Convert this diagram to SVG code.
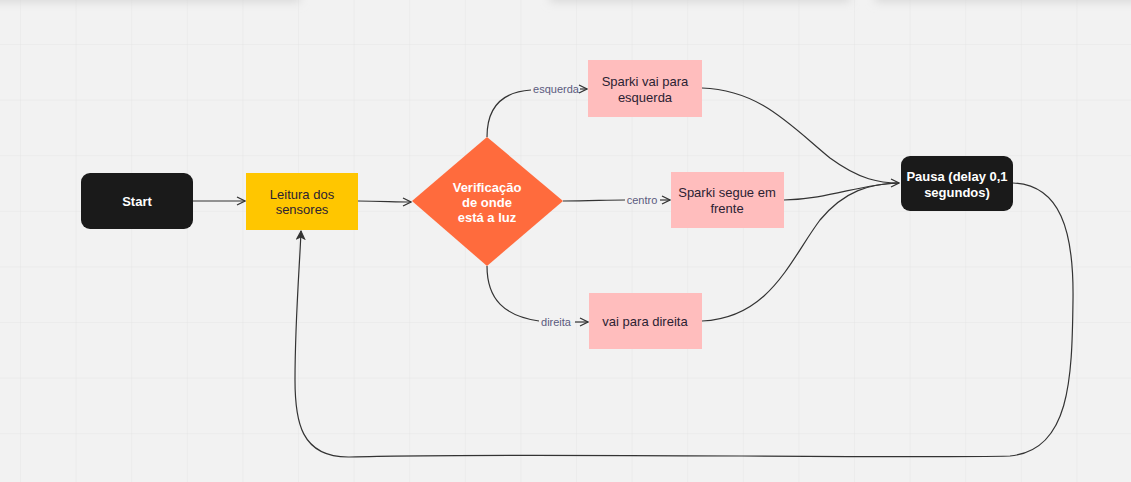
<svg xmlns="http://www.w3.org/2000/svg" width="1131" height="482" viewBox="0 0 1131 482">
<defs>
  <pattern id="grid" x="20" y="44" width="55.6" height="55.6" patternUnits="userSpaceOnUse">
    <path d="M0,0 V55.6 M0,0 H55.6" fill="none" stroke="#e5e5e5" stroke-width="1"/>
  </pattern>
  <filter id="blur" x="-10%" y="-100%" width="120%" height="300%">
    <feGaussianBlur stdDeviation="5"/>
  </filter>
  <marker id="arr" viewBox="0 0 10 10" refX="9" refY="5" markerWidth="10" markerHeight="10" markerUnits="userSpaceOnUse" orient="auto">
    <path d="M1,1 L9,5 L1,9" fill="none" stroke="#333" stroke-width="1.3"/>
  </marker>
  <marker id="arrf" viewBox="0 0 10 10" refX="9" refY="5" markerWidth="10" markerHeight="10" markerUnits="userSpaceOnUse" orient="auto">
    <path d="M1,1 L9,5 L1,9 L3,5 Z" fill="#333" stroke="#333" stroke-width="1"/>
  </marker>
</defs>
<style>
  .edge{fill:none;stroke:#333;stroke-width:1.2}
  .lbl{font-family:"Liberation Sans",Arial,sans-serif;font-size:11px;fill:#5b5b7e;text-anchor:middle}
  .t{font-family:"Liberation Sans",Arial,sans-serif;font-size:13px;text-anchor:middle}
  .dark{fill:#2b2233}
  .white{fill:#ffffff;font-weight:bold}
  .shadow{fill:#d8d8d8;filter:url(#blur)}
</style>
<rect width="1131" height="482" fill="#f2f2f2"/>
<rect width="1131" height="482" fill="url(#grid)"/>
<rect class="shadow" x="-20" y="-10" width="320" height="12"/>
<rect class="shadow" x="550" y="-10" width="300" height="12"/>
<rect class="shadow" x="875" y="-10" width="276" height="12"/>

<g id="connectors">
  <path class="edge" d="M193,201 H245" marker-end="url(#arr)"/>
  <path class="edge" d="M358,201 C380,201 395,202 411,202" marker-end="url(#arr)"/>
  <path class="edge" d="M487,137 C487,110 500,92 531,90"/>
  <text class="lbl" x="556" y="93">esquerda</text>
  <path class="edge" d="M580,89 H587" marker-end="url(#arr)"/>
  <path class="edge" d="M563,201 C590,201 605,200 625,200"/>
  <text class="lbl" x="642" y="204">centro</text>
  <path class="edge" d="M660,200 H670" marker-end="url(#arr)"/>
  <path class="edge" d="M487,266 C487,300 505,316 539,321"/>
  <text class="lbl" x="556" y="326">direita</text>
  <path class="edge" d="M575,322 H588" marker-end="url(#arr)"/>
  <path class="edge" d="M702,88 C760,90 790,125 830,158 C860,180 880,183 899,183" marker-end="url(#arr)"/>
  <path class="edge" d="M784,200 C830,199 860,184 899,183"/>
  <path class="edge" d="M702,321 C770,318 790,260 820,220 C845,190 870,184 899,183"/>
  <path class="edge" d="M1013,183 C1060,185 1074,230 1073,300 C1072,380 1070,450 1010,456 C900,459 500,452 350,457 C300,458 295,420 295,380 C295,320 300,260 301,231" marker-end="url(#arrf)"/>
</g>

<g id="start">
  <rect x="81" y="173" width="112" height="56" rx="9" fill="#1a1a1a"/>
  <text class="t white" x="137" y="206">Start</text>
</g>
<g id="leitura">
  <rect x="246" y="173" width="112" height="57" fill="#ffc600"/>
  <text class="t dark" x="302" y="199">Leitura dos</text>
  <text class="t dark" x="302" y="214">sensores</text>
</g>
<g id="verificacao">
  <polygon points="487,137 563,201 487,266 412,201" fill="#ff6b3d"/>
  <text class="t white" x="487" y="192">Verificação</text>
  <text class="t white" x="487" y="207">de onde</text>
  <text class="t white" x="487" y="222">está a luz</text>
</g>
<g id="esquerda">
  <rect x="588" y="60" width="114" height="57" fill="#ffbdbd"/>
  <text class="t dark" x="645" y="86">Sparki vai para</text>
  <text class="t dark" x="645" y="102">esquerda</text>
</g>
<g id="frente">
  <rect x="671" y="172" width="113" height="56" fill="#ffbdbd"/>
  <text class="t dark" x="727" y="197">Sparki segue em</text>
  <text class="t dark" x="727" y="213">frente</text>
</g>
<g id="direita">
  <rect x="589" y="293" width="113" height="56" fill="#ffbdbd"/>
  <text class="t dark" x="645" y="326">vai para direita</text>
</g>
<g id="pausa">
  <rect x="901" y="156" width="112" height="55" rx="9" fill="#1a1a1a"/>
  <text class="t white" x="957" y="181">Pausa (delay 0,1</text>
  <text class="t white" x="957" y="197">segundos)</text>
</g>
</svg>
